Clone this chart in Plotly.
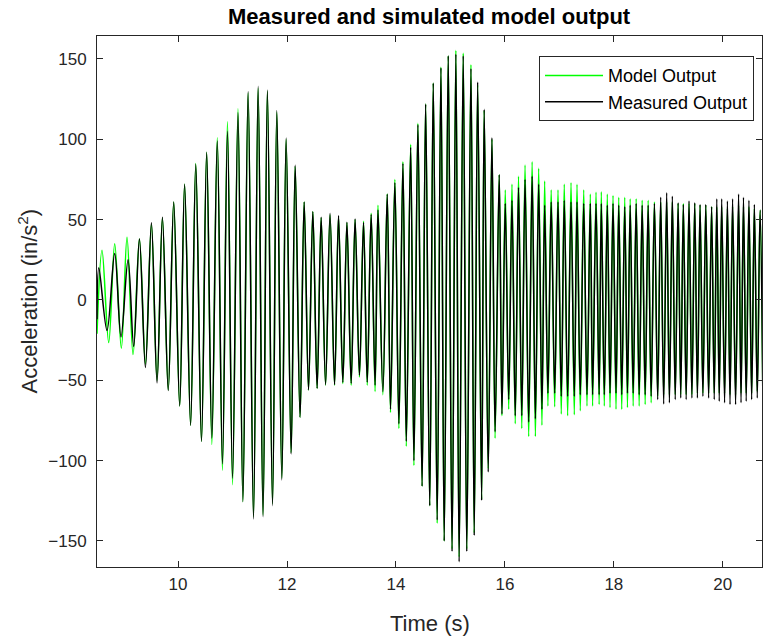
import plotly.graph_objects as go

# ---- data: extrema of the oscillating responses (time in s, acceleration in in/s^2) ----
lead_meas_t = [8.512, 8.545, 8.696, 8.837, 8.953, 9.082, 9.186]
lead_meas_y = [-12, 20, -19, 29, -23, 25, -29]
lead_model_t = [8.512, 8.604, 8.727, 8.837, 8.959, 9.063, 9.174]
lead_model_y = [-21, 31, -26.5, 35, -30, 39, -34]

shared_t = [
    9.291, 9.401, 9.511, 9.614, 9.713, 9.82, 9.92, 10.03, 10.12, 10.23,
    10.325, 10.43, 10.525, 10.62, 10.72, 10.815, 10.907, 11.0, 11.10, 11.19,
    11.286, 11.385, 11.47, 11.56, 11.64, 11.734, 11.813, 11.905, 11.984, 12.076,
    12.15, 12.24, 12.315, 12.395, 12.474, 12.553, 12.627, 12.708, 12.79, 12.873,
    12.946, 13.025, 13.10, 13.178, 13.25, 13.33, 13.405, 13.473, 13.545, 13.617,
    13.67, 13.76, 13.84, 13.90, 13.98, 14.054, 14.128, 14.19, 14.27, 14.33,
    14.403, 14.48, 14.545, 14.62, 14.685, 14.757, 14.826, 14.886, 14.96, 15.03,
    15.10, 15.16, 15.235, 15.30, 15.377, 15.437, 15.5, 15.573, 15.62, 15.694,
    15.762, 15.82, 15.896, 15.946, 16.007, 16.07, 16.13, 16.19, 16.25, 16.31,
    16.37, 16.437, 16.50, 16.56, 16.62, 16.68, 16.73, 16.79, 16.85, 16.914,
    16.975, 17.035, 17.09, 17.152, 17.214, 17.274, 17.324, 17.384, 17.447, 17.507,
    17.568, 17.61, 17.673, 17.73, 17.77, 17.825, 17.88, 17.93, 17.985, 18.04,
    18.09, 18.145, 18.20, 18.25, 18.30, 18.355, 18.41, 18.465, 18.52, 18.575,
    18.63, 18.685, 18.745, 18.805, 18.86, 18.915, 18.97, 19.02, 19.074, 19.127,
    19.18, 19.228, 19.276, 19.328, 19.38, 19.433, 19.485, 19.534, 19.583, 19.635,
    19.688, 19.74, 19.795, 19.843, 19.89, 19.935, 19.98, 20.033, 20.085, 20.133,
    20.18, 20.235, 20.29, 20.335, 20.38, 20.43, 20.48, 20.53, 20.58, 20.633,
    20.685, 20.735,
]

measured_y = [
    38, -42, 48, -51.6, 51.5, -56.4, 61, -66, 72, -78,
    84.5, -88, 92, -86, 99, -102, 105, -111, 116.6, -125.5,
    129.7, -136.4, 133, -135, 130.7, -128, 118, -112, 100.8, -95.8,
    83.8, -73, 61, -56, 55, -55, 51.5, -52.7, 53.9, -52.7,
    52.6, -51.2, 48.4, -51.9, 50.4, -46.8, 48.2, -51.2, 53.2, -53,
    56, -57, 65.9, -68, 73, -77, 85, -88, 95, -100,
    109, -116, 122, -128, 135, -137, 144.5, -150, 152, -156.5,
    153, -163, 152, -156.5, 144, -146.6, 135.6, -124.8, 118.7, -107,
    101, -82, 78, -71, 60, -62, 62, -72, 70, -72,
    75, -76, 77, -74, 72, -68, 59, -58, 61, -58,
    61, -60, 62, -60, 61, -60, 61, -59, 60, -59,
    60, -59, 60, -59, 60, -59, 59, -58, 60, -58,
    59, -59, 58, -58, 59, -58, 60, -59, 59, -59,
    59, -60, 60, -62, 64, -64.7, 66.8, -64, 64.5, -62,
    60.5, -61, 59.4, -62, 61.6, -61, 60.5, -61, 59.4, -60,
    59.4, -61, 58, -62, 63, -63, 63, -64, 61.6, -65,
    63, -65, 65.9, -64, 64, -63, 62, -62, 59.4, -61,
    56, -60,
]

model_y = [
    38, -40, 47, -50, 51, -56, 61, -66, 72, -78,
    85, -88, 92, -90, 101, -106, 111, -115, 119, -125.5,
    129, -135, 132, -134, 130, -127, 117, -111, 100, -95,
    83, -73, 61, -56, 55, -55, 51, -53, 53, -53,
    52, -52, 48, -53, 50, -48, 49, -53, 54, -57,
    59, -59, 66, -70, 75, -80, 86, -91, 97, -103,
    110, -116, 122, -128, 135, -139, 145, -150, 152, -155,
    155.4, -160, 153.7, -155, 146.5, -145, 134, -124, 118, -105,
    100, -86, 78, -72, 68.5, -68, 72, -77, 77, -80,
    84, -85, 86, -85, 82, -78, 74, -66, 68.5, -66.5,
    68.5, -71, 72, -72, 73, -71.5, 72, -69, 68.5, -66,
    66, -66, 67, -65, 67.4, -66, 66, -67, 65, -68,
    64, -68, 64, -67, 63, -66, 63, -66, 62, -65,
    62, -64, 61, -60, 61, -59, 61, -59, 61, -59,
    60, -59, 60, -59, 60, -59, 60, -58, 59, -58,
    59, -58, 58, -58, 58, -58, 58, -58, 57, -59,
    58, -59, 59, -58, 58, -58, 58, -58, 57, -57,
    56, -57,
]

x_ticks = [10, 12, 14, 16, 18, 20]
y_ticks = [-150, -100, -50, 0, 50, 100, 150]
x_range = [8.512, 20.72]
y_range = [-166.2, 164.3]

title_text = "Measured and simulated model output"
x_label = "Time (s)"
y_label = "Acceleration (in/s<sup>2</sup>)"

assert len(shared_t) == len(measured_y) == len(model_y)

model_t = lead_model_t + shared_t
model_vals = lead_model_y + model_y
meas_t = lead_meas_t + shared_t
meas_vals = lead_meas_y + measured_y

FONT = "Liberation Sans, Arial, Helvetica, sans-serif"
AX = "#262626"

fig = go.Figure()
fig.add_trace(go.Scatter(
    x=model_t, y=model_vals, mode="lines", name="Model Output",
    line=dict(color="#00ff00", width=1.5, shape="spline"),
))
fig.add_trace(go.Scatter(
    x=meas_t, y=meas_vals, mode="lines", name="Measured Output",
    line=dict(color="#000000", width=1.5, shape="spline"),
))

axis_common = dict(
    showline=True, linecolor=AX, linewidth=1, mirror="ticks",
    ticks="inside", ticklen=6, tickcolor=AX, tickwidth=1,
    showgrid=False, zeroline=False,
    tickfont=dict(family=FONT, size=17, color=AX),
)

fig.update_layout(
    width=763, height=638,
    margin=dict(l=97, r=1, t=36, b=71),
    paper_bgcolor="white", plot_bgcolor="white",
    font=dict(family=FONT, color=AX),
    showlegend=True,
    legend=dict(
        x=0.988, y=0.962, xanchor="right", yanchor="top",
        bgcolor="white", bordercolor=AX, borderwidth=1,
        font=dict(family=FONT, size=18, color="#000000"),
        itemwidth=58, tracegroupgap=0,
    ),
    xaxis=dict(range=x_range, tickvals=x_ticks, ticklabelstandoff=2, **axis_common),
    yaxis=dict(range=y_range, tickvals=y_ticks, ticklabelstandoff=6, **axis_common),
    annotations=[
        dict(text="<b>" + title_text + "</b>", xref="paper", yref="paper",
             x=0.5, y=1, yshift=5, xanchor="center", yanchor="bottom",
             showarrow=False, font=dict(family=FONT, size=22, color="#000000")),
        dict(text=x_label, xref="paper", yref="paper", x=0.5, y=0,
             yshift=-42, xanchor="center", yanchor="top", showarrow=False,
             font=dict(family=FONT, size=22, color=AX)),
        dict(text=y_label, xref="paper", yref="paper", x=0, y=0.5,
             xshift=-70, xanchor="center", yanchor="middle", textangle=-90,
             showarrow=False, font=dict(family=FONT, size=22, color=AX)),
    ],
)

fig.write_html("out.html")
